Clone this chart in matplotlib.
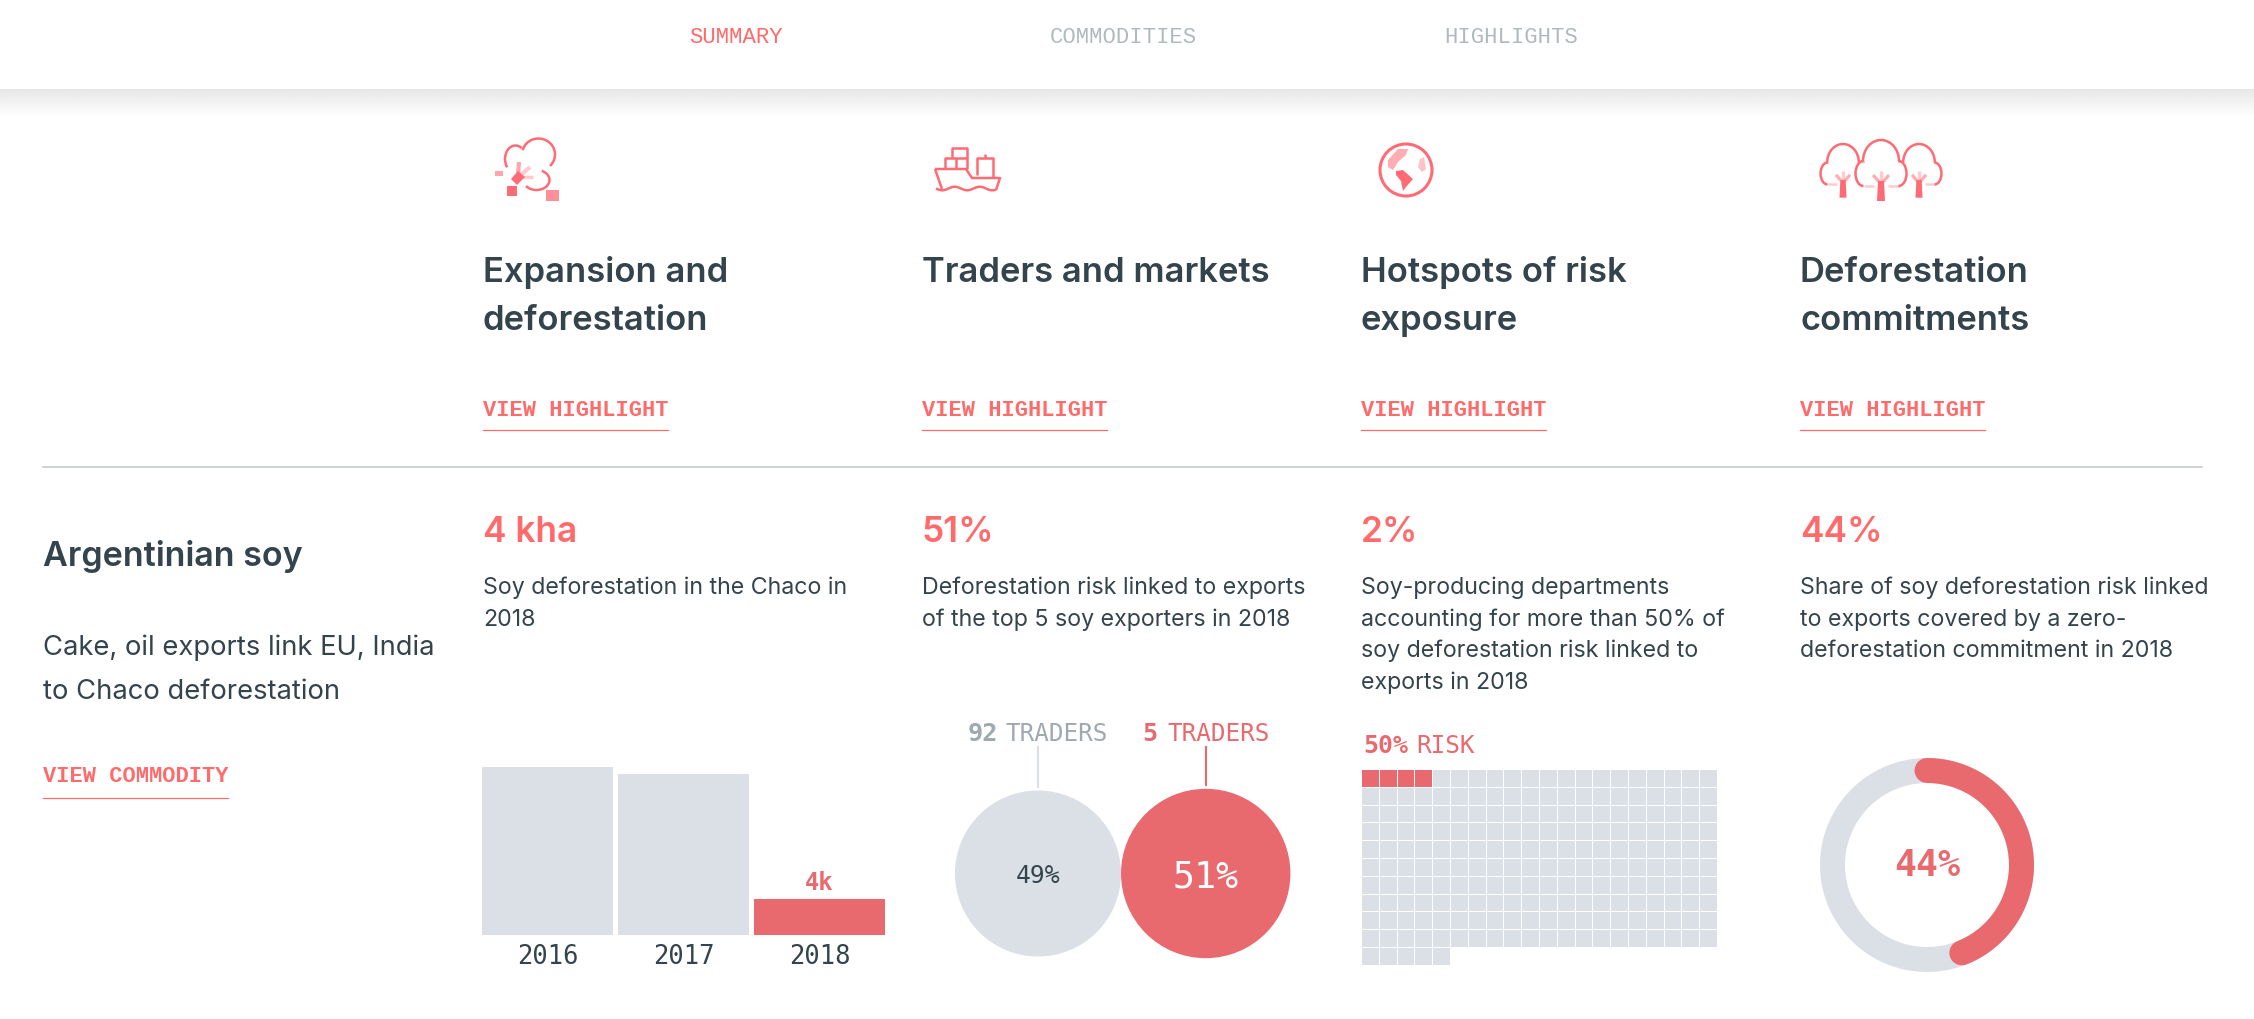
import numpy as np
import matplotlib
matplotlib.use("Agg")
import matplotlib.pyplot as plt
from matplotlib.patches import Rectangle, Circle, Arc, Polygon
from matplotlib.font_manager import FontProperties
from matplotlib.textpath import TextPath

# ---- data ----
nav_labels = ["SUMMARY", "COMMODITIES", "HIGHLIGHTS"]
column_titles = [["Expansion and", "deforestation"], ["Traders and markets"],
                 ["Hotspots of risk", "exposure"], ["Deforestation", "commitments"]]
column_headline = ["4 kha", "51%", "2%", "44%"]
column_text = [
    ["Soy deforestation in the Chaco in", "2018"],
    ["Deforestation risk linked to exports", "of the top 5 soy exporters in 2018"],
    ["Soy-producing departments", "accounting for more than 50% of",
     "soy deforestation risk linked to", "exports in 2018"],
    ["Share of soy deforestation risk linked", "to exports covered by a zero-",
     "deforestation commitment in 2018"],
]
commodity = "Argentinian soy"
commodity_text = ["Cake, oil exports link EU, India", "to Chaco deforestation"]
bar_years = ["2016", "2017", "2018"]
bar_values = [18.7, 17.9, 4.0]
bar_label = "4k"
trader_counts = ["92", "5"]
trader_shares = [49, 51]
waffle_total = 205
waffle_highlight = 4
commitment_share = 44

# ---- style ----
W, H = 2254, 1020
RED_T = "#FF6B6B"
RED = "#E96A6E"
GREY = "#DBE0E6"
DARK = "#34444C"
LBL = "#9DAAB0"
NAV = "#B0BABC"
SANS = "Inter"
MONO = "Liberation Mono"
DIN = "DejaVu Sans Mono"

fig = plt.figure(figsize=(W / 100, H / 100), dpi=100, facecolor="white")
bg = fig.add_axes([0, 0, 1, 1])
bg.set_xlim(0, W); bg.set_ylim(H, 0); bg.axis("off")


def axpx(x0, y0, x1, y1, **kw):
    return fig.add_axes([x0 / W, 1 - y1 / H, (x1 - x0) / W, (y1 - y0) / H], **kw)


def fit(ref, px, family, weight="normal"):
    fp = FontProperties(family=family, weight=weight)
    w = TextPath((0, 0), ref, size=10, prop=fp).get_extents().width
    return 10 * px / (w * 100 / 72)


def put(x, y, s, size, color, family=SANS, weight="normal", ha="left", ax=bg):
    return ax.text(x, y, s, fontsize=size, color=color, family=family, weight=weight,
                   ha=ha, va="baseline")


# header with shadow
grad = np.linspace(0.905, 1, 30)[:, None]
bg.imshow(grad, extent=(0, W, 118, 90), cmap="gray", vmin=0, vmax=1, aspect="auto", zorder=0)
bg.set_xlim(0, W); bg.set_ylim(H, 0)
s_nav = fit("COMMODITIES", 145, MONO)
for x, s, c in zip([689, 1050, 1444], nav_labels, [RED_T, NAV, NAV]):
    put(x, 43, s, s_nav, c, MONO)

# columns
col_x = [483, 921.5, 1361, 1800]
s_title = fit("Expansion and", 240, SANS, "semibold")
s_head = fit("4 kha", 90, SANS, "semibold")
s_body = fit("Deforestation risk linked to exports", 381, SANS)
s_link = fit("VIEW HIGHLIGHT", 184, MONO, "bold")
for i, x in enumerate(col_x):
    for j, line in enumerate(column_titles[i]):
        put(x, 282.5 + 48 * j, line, s_title, DARK, weight="semibold")
    put(x, 416, "VIEW HIGHLIGHT", s_link, RED_T, MONO, "bold")
    bg.plot([x, x + 185], [430.5, 430.5], color=RED_T, lw=0.9)
    put(x, 542, column_headline[i], s_head, RED_T, weight="semibold")
    for j, line in enumerate(column_text[i]):
        put(x, 594 + 31.7 * j, line, s_body, DARK)

bg.plot([43, 2202], [467.5, 467.5], color="#C4C8CA", lw=1.1)

# left column
put(43, 566, commodity, fit(commodity, 259, SANS, "semibold"), DARK, weight="semibold")
s_ct = fit(commodity_text[0], 388, SANS)
for j, line in enumerate(commodity_text):
    put(43, 655 + 44 * j, line, s_ct, DARK)
put(43, 782, "VIEW COMMODITY", s_link, RED_T, MONO, "bold")
bg.plot([43, 228], [798.5, 798.5], color=RED_T, lw=0.9)

# ---- bars ----
s_year = fit("2016", 58, DIN)
ax = axpx(482, 736, 885, 936)
ax.set_xlim(-0.4816, 2.4816); ax.set_ylim(0, 200 / 9)
ax.bar(range(3), bar_values, width=0.963, color=[GREY, GREY, RED])
for sp in ax.spines.values():
    sp.set_visible(False)
ax.set_yticks([])
ax.set_xticks(range(3), bar_years, fontsize=s_year, family=DIN, color=DARK)
ax.tick_params(axis="x", length=0, pad=5.5)
ax.patch.set_alpha(0)
ax.annotate(bar_label, (2, bar_values[2]), xytext=(0, 7), textcoords="offset points", ha="center",
            va="baseline", fontsize=fit("4k", 27, DIN, "bold"), color=RED, family=DIN, weight="bold")

# ---- traders ----
ax = axpx(930, 720, 1330, 1000)
ax.set_xlim(930, 1330); ax.set_ylim(1000, 720); ax.axis("off")
k = 11.86
c_x = 1038
radii = [k * np.sqrt(v) for v in trader_shares]
centers = [c_x, c_x + radii[0] + radii[1]]
for cx, r, col in zip(centers, radii, [GREY, RED]):
    ax.add_patch(Circle((cx, 874.5), r, color=col, lw=0))
ax.plot([centers[0]] * 2, [748, 788], color=GREY, lw=1.5)
ax.plot([centers[1]] * 2, [748, 786], color=RED, lw=1.5)
s_tr = fit("TRADERS", 100, DIN)
put(968, 741, trader_counts[0], fit("92", 27, DIN, "bold"), LBL, DIN, "bold", ax=ax)
put(1006, 741, "TRADERS", s_tr, LBL, DIN, ax=ax)
put(1142, 741, trader_counts[1], fit("92", 27, DIN, "bold"), RED, DIN, "bold", ax=ax)
put(1167, 741, "TRADERS", s_tr, RED, DIN, ax=ax)
put(centers[0], 883, f"{trader_shares[0]}%", fit("49%", 43, DIN), DARK, DIN, ha="center", ax=ax)
put(centers[1], 887, f"{trader_shares[1]}%", fit("51%", 63, DIN), "white", DIN, ha="center", ax=ax)

# ---- waffle ----
cols = 20
rows = int(np.ceil(waffle_total / cols))
ax = axpx(1362, 771, 1362 + 17.8 * cols, 771 + 17.8 * rows)
ax.set_xlim(0, cols); ax.set_ylim(rows, 0); ax.axis("off")
for n in range(waffle_total):
    r, c = divmod(n, cols)
    ax.add_patch(Rectangle((c, r), 0.945, 0.945, color=RED if n < waffle_highlight else GREY, lw=0))
put(1363, 753, "50%", fit("50%", 43, DIN, "bold"), RED, DIN, "bold")
put(1416, 753, "RISK", fit("RISK", 57, DIN), RED, DIN)

# ---- donut ----
Rax = 112
ax = axpx(1927 - Rax, 866 - Rax, 1927 + Rax, 866 + Rax, projection="polar")
ax.set_theta_zero_location("N"); ax.set_theta_direction(-1)
ax.set_ylim(0, Rax); ax.axis("off")
lw = 25 * 72 / 100
ax.plot(np.linspace(0, 2 * np.pi, 200), np.full(200, 94.5), color=GREY, lw=lw, solid_capstyle="butt")
ax.plot(np.linspace(0, 2 * np.pi * commitment_share / 100, 100), np.full(100, 94.5), color=RED, lw=lw,
        solid_capstyle="round")
put(1927, 876, f"{commitment_share}%", fit("44%", 64, DIN, "bold"), RED, DIN, "bold", ha="center")

# ---- icons ----
IC = "#FF6B75"
ilw = 1.8


def arc(cx, cy, w, h, a, b, alpha=1):
    bg.add_patch(Arc((cx, cy), w, h, theta1=a, theta2=b, color=IC, lw=ilw, alpha=alpha, zorder=3))


def seg(pts, alpha=1, lw=ilw):
    p = np.array(pts)
    bg.plot(p[:, 0], p[:, 1], color=IC, lw=lw, alpha=alpha, solid_capstyle="butt", zorder=3)


def blob(pts, alpha=1):
    bg.add_patch(Polygon(pts, closed=True, color=IC, alpha=alpha, lw=0, zorder=3))


# icon 1: felled tree (y axis is inverted, so angles run clockwise)
arc(538.5, 155.5, 33, 32, 195, 405)
arc(515.5, 160, 21, 27, 135, 300)
arc(536.5, 181, 26, 20, -60, 150)
blob([(511, 180), (518, 172), (525, 178), (517, 186)])
seg([(518, 176), (519, 163)], 0.6, 3)
seg([(521, 176), (530, 168)], 0.35, 3)
seg([(523, 178), (533, 178)], 0.35, 2.5)
blob([(495, 172), (503, 172), (503, 177), (495, 177)], 0.6)
blob([(507, 187), (517, 187), (517, 197), (507, 197)])
blob([(546, 191), (559, 191), (559, 202), (546, 202)], 0.75)

# icon 2: ship
seg([(935, 170), (942, 190)])
seg([(935, 170), (966, 170), (972, 179), (1000, 179), (996, 191)])
seg([(945, 170), (945, 159), (967, 159), (967, 170)])
seg([(952, 159), (952, 149), (967, 149), (967, 159)])
seg([(956, 159), (956, 170)])
seg([(977, 176), (977, 159), (993, 159), (993, 179)])
seg([(985, 159), (985, 155)])
xw = np.linspace(936, 996, 40)
seg(np.c_[xw, 189.5 + 1.8 * np.sin((xw - 936) / 60 * 2 * np.pi * 2.4)])

# icon 3: globe
bg.add_patch(Circle((1406, 171), 26, fill=False, ec=IC, lw=2.2, zorder=3))
blob([(1388, 161), (1398, 150), (1408, 150), (1406, 156), (1398, 163), (1393, 171), (1388, 168)], 0.55)
blob([(1396, 172), (1403, 171), (1413, 180), (1406, 188), (1403, 192), (1401, 182), (1396, 176)])
blob([(1420, 160), (1424, 158), (1426, 170), (1422, 173), (1418, 168)], 0.4)


# icon 4: trees
def tree(cx, top, s, left=True, right=True):
    arc(cx, top + 21 * s, 36 * s, 42 * s, 180, 360)
    if left:
        arc(cx - 17.5 * s, top + 33.5 * s, 16 * s, 25 * s, 90, 270)
        seg([(cx - 18 * s, top + 21 * s), (cx - 18 * s, top + 22 * s)])
        seg([(cx - 17.5 * s, top + 46 * s), (cx - 7 * s, top + 46 * s)], 0.35)
    if right:
        arc(cx + 17.5 * s, top + 33.5 * s, 16 * s, 25 * s, -90, 90)
        seg([(cx + 18 * s, top + 21 * s), (cx + 18 * s, top + 22 * s)])
        seg([(cx + 7 * s, top + 46 * s), (cx + 17.5 * s, top + 46 * s)], 0.35)
    blob([(cx - 3 * s, top + 41 * s), (cx + 3 * s, top + 41 * s), (cx + 4 * s, top + 61 * s),
          (cx - 4 * s, top + 61 * s)])
    seg([(cx, top + 41 * s), (cx, top + 31 * s)], 0.35, 2.5)
    seg([(cx - 1, top + 43 * s), (cx - 8 * s, top + 35 * s)], 0.55, 2.3)
    seg([(cx + 1, top + 43 * s), (cx + 8 * s, top + 35 * s)], 0.55, 2.3)


tree(1843, 145, 0.88, right=False)
tree(1919, 145, 0.88, left=False)
tree(1881, 141, 1.0)

fig.savefig("out.png", dpi=100, facecolor="white")
